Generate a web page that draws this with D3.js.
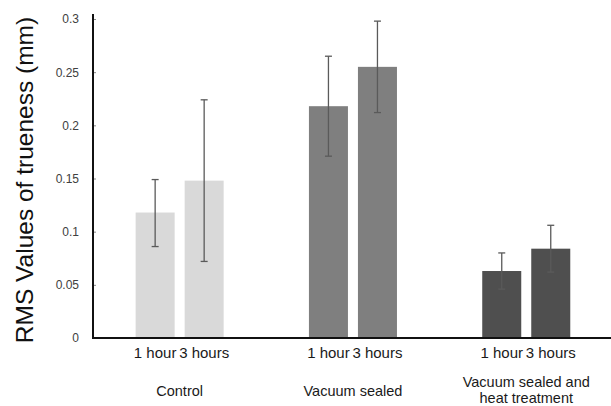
<!DOCTYPE html>
<html>
<head>
<meta charset="utf-8">
<script src="https://cdn.jsdelivr.net/npm/d3@7"></script>
<style>
  body { margin: 0; background: #fff; }
  svg { display: block; }
  text { font-family: "Liberation Sans", Arial, sans-serif; }
</style>
</head>
<body>
<div id="chart"></div>
<script>
const W = 611, H = 406;

// data
const groups = ["Control", "Vacuum sealed", "Vacuum sealed and heat treatment"];
const times = ["1 hour", "3 hours"];
const means = [
    [0.118, 0.148],
    [0.218, 0.255],
    [0.063, 0.084]
];
const errLow = [
    [0.086, 0.072],
    [0.171, 0.212],
    [0.046, 0.062]
];
const errHigh = [
    [0.149, 0.224],
    [0.265, 0.298],
    [0.080, 0.106]
];
const groupColors = ["#d9d9d9", "#7f7f7f", "#4f4f4f"];
const yTicks = [0, 0.05, 0.1, 0.15, 0.2, 0.25, 0.3];

const m = { left: 93, right: 0, top: 19, bottom: 68 };

const svg = d3.select("#chart").append("svg")
    .attr("width", W)
    .attr("height", H);

const x0 = d3.scaleBand()
    .domain(groups)
    .range([m.left, m.left + 3 * 173.3]);

const x1 = d3.scaleBand()
    .domain(times)
    .range([0, x0.bandwidth()])
    .paddingInner(0.204)
    .paddingOuter(0.87);

const y = d3.scaleLinear()
    .domain([0, 0.3])
    .range([H - m.bottom, m.top]);

// flatten to one row per bar
const rows = [];
groups.forEach((g, i) => {
    times.forEach((t, j) => {
        rows.push({ g: g, gi: i, t: t, v: means[i][j], lo: errLow[i][j], hi: errHigh[i][j] });
    });
});

// bars
svg.append("g").attr("id", "bars")
    .selectAll("rect")
    .data(rows)
    .enter()
    .append("rect")
    .attr("x", d => x0(d.g) + x1(d.t))
    .attr("y", d => y(d.v))
    .attr("width", x1.bandwidth())
    .attr("height", d => y(0) - y(d.v))
    .style("fill", d => groupColors[d.gi]);

// error bars
const eb = svg.append("g").attr("id", "errors")
    .selectAll("g")
    .data(rows)
    .enter()
    .append("g")
    .attr("stroke", "#5a5a5a")
    .attr("stroke-width", 1.3);

const cx = d => x0(d.g) + x1(d.t) + x1.bandwidth() / 2;
eb.append("line")
    .attr("x1", cx).attr("x2", cx)
    .attr("y1", d => y(d.lo)).attr("y2", d => y(d.hi));
eb.append("line")
    .attr("x1", d => cx(d) - 3.5).attr("x2", d => cx(d) + 3.5)
    .attr("y1", d => y(d.hi)).attr("y2", d => y(d.hi));
eb.append("line")
    .attr("x1", d => cx(d) - 3.5).attr("x2", d => cx(d) + 3.5)
    .attr("y1", d => y(d.lo)).attr("y2", d => y(d.lo));

// y axis
const yAxis = svg.append("g")
    .attr("transform", "translate(" + m.left + ",0)")
    .call(d3.axisLeft(y).tickValues(yTicks).tickSize(-3).tickPadding(14)
        .tickFormat(d => d3.format("")(+d.toFixed(2))));
yAxis.select(".domain").remove();
yAxis.selectAll(".tick line").attr("stroke", "#888");
yAxis.selectAll(".tick text")
    .attr("fill", "#404040")
    .style("font-size", "12px");

svg.append("line")
    .attr("x1", m.left).attr("x2", m.left)
    .attr("y1", 14).attr("y2", y(0))
    .attr("stroke", "#111").attr("stroke-width", 2);
svg.append("line")
    .attr("x1", m.left - 1).attr("x2", W)
    .attr("y1", y(0)).attr("y2", y(0))
    .attr("stroke", "#111").attr("stroke-width", 2);

// time labels under each bar
svg.append("g").attr("id", "timeLabels")
    .selectAll("text")
    .data(rows)
    .enter()
    .append("text")
    .attr("x", cx)
    .attr("y", 358)
    .attr("text-anchor", "middle")
    .style("font-size", "15px")
    .attr("fill", "#1a1a1a")
    .text(d => d.t);

// group labels
const groupLines = [["Control"], ["Vacuum sealed"], ["Vacuum sealed and", "heat treatment"]];
const gl = svg.append("g").attr("id", "groupLabels")
    .selectAll("text")
    .data(groups)
    .enter()
    .append("text")
    .attr("x", d => x0(d) + x0.bandwidth() / 2)
    .attr("y", (d, i) => groupLines[i].length > 1 ? 387 : 396)
    .attr("text-anchor", "middle")
    .style("font-size", "14.5px")
    .attr("fill", "#1a1a1a");
gl.each(function (d, i) {
    const t = d3.select(this);
    groupLines[i].forEach((s, k) => {
        t.append("tspan")
            .attr("x", x0(d) + x0.bandwidth() / 2)
            .attr("dy", k === 0 ? 0 : 16)
            .text(s);
    });
});

// y title
svg.append("text")
    .attr("transform", "translate(33," + 180 + ") rotate(-90)")
    .attr("text-anchor", "middle")
    .style("font-size", "24.5px")
    .attr("fill", "#111")
    .text("RMS Values of trueness (mm)");
</script>
</body>
</html>
